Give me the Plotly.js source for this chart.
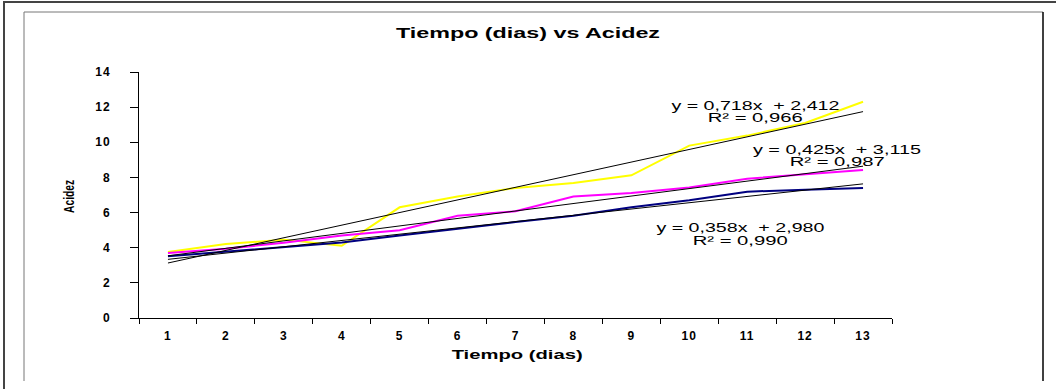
<!DOCTYPE html>
<html><head><meta charset="utf-8">
<script src="https://cdn.plot.ly/plotly-3.0.1.min.js"></script>
<style>
html,body{margin:0;padding:0;background:#fff;}
#chart{width:1056px;height:389px;}
.xtick text,.ytick text{letter-spacing:1px;}
</style></head><body><div id="chart"></div>
<script>
// ---- data ----
const dias = [1,2,3,4,5,6,7,8,9,10,11,12,13];
const diasLabels = ["1","2","3","4","5","6","7","8","9","10","11","12","13"];
const acidezAmarilla = [3.76,4.21,4.46,4.11,6.30,6.92,7.40,7.68,8.12,9.81,10.38,11.10,12.31];
const acidezMagenta  = [3.70,3.94,4.28,4.70,4.99,5.82,6.07,6.92,7.11,7.43,7.93,8.16,8.42];
const acidezAzul     = [3.51,3.77,4.04,4.30,4.70,5.10,5.46,5.82,6.30,6.70,7.19,7.30,7.40];
const pendientes = [0.718, 0.425, 0.358];
const interceptos = [2.412, 3.115, 2.980];
const r2 = ["0,966", "0,987", "0,990"];
const yTicks = [0,2,4,6,8,10,12,14];

// ---- layout helpers (pixel -> paper) ----
const W=1056,H=389, L=139, R=892, T=72, B=318;
const px = x => (x-L)/(R-L);
const py = y => (B-y)/(B-T);

const series = [acidezAmarilla, acidezMagenta, acidezAzul];
const colores = ["#FFFF00", "#FF00FF", "#000080"];
const traces = [];
series.forEach((s,i)=>{
  traces.push({x:dias, y:s, type:'scatter', mode:'lines', line:{color:colores[i], width:2}, showlegend:false, hoverinfo:'skip'});
});
pendientes.forEach((m,i)=>{
  const x0=dias[0], x1=dias[dias.length-1];
  traces.push({x:[x0,x1], y:[m*x0+interceptos[i], m*x1+interceptos[i]], type:'scatter', mode:'lines',
    line:{color:'#000', width:1}, showlegend:false, hoverinfo:'skip'});
});

const fmt = v => v.toFixed(3).replace('.', ',');
// [x center, y line1, y line2] in pixels
const eqPos = [[755,106,118],[837,150,162],[740,228,241]];
const annotations = [];
const fitLen = [];
const eqFont = {family:'Liberation Sans, Arial, sans-serif', size:12, color:'#000'};
pendientes.forEach((m,i)=>{
  annotations.push({xref:'paper', yref:'paper', x:px(eqPos[i][0]), y:py(eqPos[i][1]), xanchor:'center', yanchor:'middle',
    text:'y = '+fmt(m)+'x  + '+fmt(interceptos[i]), showarrow:false, font:eqFont});
  fitLen.push(168);
  annotations.push({xref:'paper', yref:'paper', x:px(eqPos[i][0]), y:py(eqPos[i][2]), xanchor:'center', yanchor:'middle',
    text:'R² = '+r2[i], showarrow:false, font:eqFont});
  fitLen.push(95);
});
annotations.push({xref:'paper', yref:'paper', x:px(69), y:py(197), xanchor:'center', yanchor:'middle', textangle:-90,
  text:'Acidez', showarrow:false, font:{family:'Liberation Sans, Arial, sans-serif', size:14, weight:'bold', color:'#000'}});
fitLen.push(33);
annotations.push({xref:'paper', yref:'paper', x:px(517), y:py(354), xanchor:'center', yanchor:'middle',
  text:'Tiempo (dias)', showarrow:false, font:{family:'Liberation Sans, Arial, sans-serif', size:13, weight:'bold', color:'#000'}});
fitLen.push(131);

const shapes = [
  {type:'line', xref:'paper', yref:'paper', x0:px(3), x1:px(1056), y0:py(2), y1:py(2), line:{color:'#444', width:2}},
  {type:'line', xref:'paper', yref:'paper', x0:px(4), x1:px(4), y0:py(2), y1:py(389), line:{color:'#444', width:2}},
  {type:'line', xref:'paper', yref:'paper', x0:px(24), x1:px(1043), y0:py(12), y1:py(12), line:{color:'#777', width:1}},
  {type:'line', xref:'paper', yref:'paper', x0:px(24), x1:px(24), y0:py(12), y1:py(381), line:{color:'#777', width:1}},
  {type:'line', xref:'paper', yref:'paper', x0:px(1043), x1:px(1043), y0:py(12), y1:py(381), line:{color:'#000', width:1.5}}
];

const layout = {
  width:W, height:H, paper_bgcolor:'#fff', plot_bgcolor:'#fff',
  margin:{l:L, r:W-R, t:T, b:H-B, pad:0},
  font:{family:'Liberation Sans, Arial, sans-serif', color:'#000'},
  title:{text:'Tiempo (dias) vs Acidez', x:528/W, xanchor:'center', y:1-33/H, yanchor:'middle',
    font:{size:15, weight:'bold', family:'Liberation Sans, Arial, sans-serif', color:'#000'}},
  xaxis:{range:[0.5,13.5], tickmode:'array', tickvals:dias, ticktext:diasLabels,
    ticks:'outside', ticklen:0, tickfont:{size:12, weight:'bold'}, ticklabelstandoff:7,
    minor:{ticks:'outside', ticklen:5, tick0:0.5, dtick:1, tickcolor:'#000', showgrid:false},
    showline:true, linecolor:'#000', linewidth:1, showgrid:false, zeroline:false, fixedrange:true},
  yaxis:{range:[0,14], tickmode:'array', tickvals:yTicks, ticktext:yTicks.map(String),
    ticks:'outside', ticklen:8, tickcolor:'#000', tickfont:{size:12, weight:'bold'}, ticklabelstandoff:17,
    showline:true, linecolor:'#000', linewidth:1, showgrid:false, zeroline:false, fixedrange:true},
  annotations, shapes
};
Plotly.newPlot('chart', traces, layout, {displayModeBar:false, staticPlot:true}).then(()=>{
  const stretch = (el, len) => { if(el){ el.setAttribute('textLength', len); el.setAttribute('lengthAdjust', 'spacingAndGlyphs'); } };
  stretch(document.querySelector('.gtitle'), 264);
  document.querySelectorAll('.annotation').forEach(a=>{
    const i = +a.getAttribute('data-index');
    stretch(a.querySelector('text.annotation-text'), fitLen[i]);
  });
});
</script></body></html>
